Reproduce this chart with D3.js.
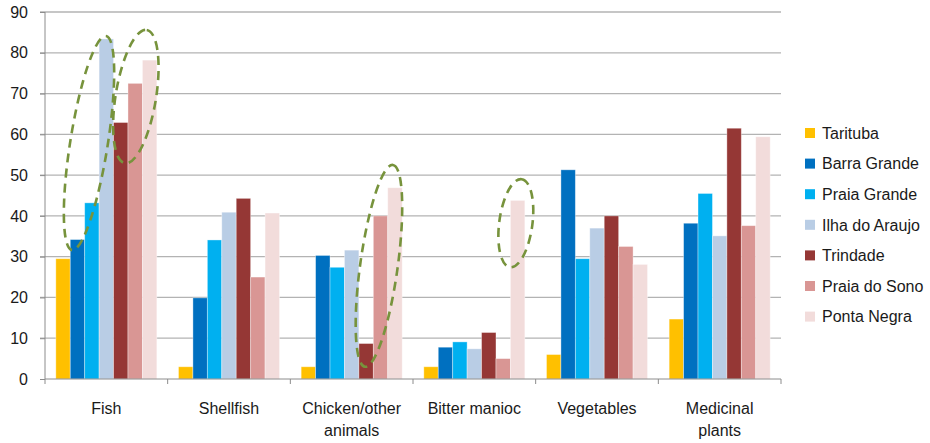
<!DOCTYPE html>
<html><head><meta charset="utf-8">
<script src="https://cdn.jsdelivr.net/npm/d3@7"></script>
<style>body{margin:0;background:#fff}svg{display:block;font-family:"Liberation Sans",Arial,sans-serif}</style>
</head><body><svg id="c" width="930" height="443"></svg>
<script>
const categories = ["Fish","Shellfish","Chicken/other animals","Bitter manioc","Vegetables","Medicinal plants"];
const categoryLines = [["Fish"],["Shellfish"],["Chicken/other","animals"],["Bitter manioc"],["Vegetables"],["Medicinal","plants"]];
const series = ["Tarituba","Barra Grande","Praia Grande","Ilha do Araujo","Trindade","Praia do Sono","Ponta Negra"];
const colors = ["#FFC000","#0070C0","#00B0F0","#B9CDE5","#953735","#D99694","#F2DCDB"];
const tarituba    = [29.5, 3, 3, 3, 6, 14.7];
const barraGrande = [34.2, 19.9, 30.3, 7.8, 51.3, 38.2];
const praiaGrande = [43.2, 34.1, 27.4, 9.1, 29.5, 45.5];
const ilhaAraujo  = [83.4, 40.9, 31.6, 7.4, 37.0, 35.1];
const trindade    = [62.9, 44.3, 8.7, 11.4, 40.0, 61.5];
const praiaSono   = [72.5, 25.0, 40.0, 5.0, 32.5, 37.6];
const pontaNegra  = [78.2, 40.7, 46.9, 43.8, 28.1, 59.4];
const yTicks = [0,10,20,30,40,50,60,70,80,90];
// dashed ellipse annotations: category, series positions (fractional index) and values of the two ends, half-width in series units
const annotations = [
  {cat:"Fish", p0:0.62, v0:31.6, p1:2.98, v1:84.1, w:1.3},
  {cat:"Fish", p0:4.29, v0:52.9, p1:5.8, v1:85.6, w:1.4},
  {cat:"Chicken/other animals", p0:3.92, v0:3.0, p1:5.86, v1:52.5, w:1.3},
  {cat:"Bitter manioc", p0:5.47, v0:27.4, p1:6.28, v1:49.0, w:1.15}
];
const values = [tarituba, barraGrande, praiaGrande, ilhaAraujo, trindade, praiaSono, pontaNegra];

const svg = d3.select("#c");
const m = {l:45, r:149, t:12, b:64};
const W = 930 - m.l - m.r, H = 443 - m.t - m.b;
const g = svg.append("g").attr("transform",`translate(${m.l},${m.t})`);

const x0 = d3.scaleBand().domain(categories).range([0,W]).paddingInner(0).paddingOuter(0);
const x1 = d3.scaleBand().domain(series).range([0,x0.bandwidth()]).paddingInner(0).paddingOuter(0.75);
const y = d3.scaleLinear().domain([0,90]).range([H,0]);

// gridlines
g.append("g").selectAll("line").data(yTicks.filter(t=>t>0)).join("line")
  .attr("x1",-5).attr("x2",W).attr("y1",d=>y(d)).attr("y2",d=>y(d))
  .attr("stroke","#B3B3B3").attr("stroke-width",1.3);

// bars
const groups = g.append("g").selectAll("g").data(categories).join("g")
  .attr("transform",d=>`translate(${x0(d)},0)`);
groups.selectAll("rect").data((c,ci)=>series.map((s,si)=>({s,si,v:values[si][ci]}))).join("rect")
  .attr("x",d=>x1(d.s)).attr("width",x1.bandwidth())
  .attr("y",d=>y(d.v)).attr("height",d=>y(0)-y(d.v))
  .attr("fill",d=>colors[d.si])
  .attr("stroke","rgba(255,255,255,0.45)").attr("stroke-width",0.8);

// y axis
const ya = g.append("g").call(d3.axisLeft(y).tickValues(yTicks).tickSize(5).tickPadding(12).tickFormat(d3.format("d")));
ya.select(".domain").attr("stroke","#8C8C8C").attr("d",`M0,${H}V0`);
ya.selectAll(".tick line").attr("stroke","#8C8C8C");
ya.selectAll("text").attr("font-size",16).attr("fill","#1a1a1a").attr("font-family","Liberation Sans, Arial, sans-serif");

// x axis
g.append("line").attr("x1",0).attr("x2",W).attr("y1",H).attr("y2",H).attr("stroke","#8C8C8C");
g.append("g").selectAll("line").data(d3.range(categories.length+1)).join("line")
  .attr("x1",i=>i*x0.step()).attr("x2",i=>i*x0.step()).attr("y1",H).attr("y2",H+5).attr("stroke","#8C8C8C");
const xl = g.append("g").selectAll("text").data(categories).join("text")
  .attr("x",d=>x0(d)+x0.bandwidth()/2).attr("y",H+35)
  .attr("text-anchor","middle").attr("font-size",16).attr("fill","#1a1a1a");
xl.each(function(d,i){
  d3.select(this).selectAll("tspan").data(categoryLines[i]).join("tspan")
    .attr("x",x0(d)+x0.bandwidth()/2).attr("dy",(t,j)=>j===0?0:22).text(t=>t);
});

// annotations
const step = x1.step();
annotations.forEach(a=>{
  const cx0 = x0(a.cat) + x1(series[0]) + x1.bandwidth()/2;
  const xa = cx0 + a.p0*step, ya0 = y(a.v0);
  const xb = cx0 + a.p1*step, yb = y(a.v1);
  const cx = (xa+xb)/2, cy = (ya0+yb)/2;
  const len = Math.hypot(xb-xa, yb-ya0)/2;
  const ang = Math.atan2(yb-ya0, xb-xa)*180/Math.PI;
  g.append("ellipse").attr("cx",0).attr("cy",0).attr("rx",len).attr("ry",a.w*step)
    .attr("transform",`translate(${cx},${cy}) rotate(${ang})`)
    .attr("fill","none").attr("stroke","#77933C").attr("stroke-width",2.6)
    .attr("stroke-dasharray","9,6");
});

// legend
const lg = svg.append("g").attr("transform","translate(805,133)");
const li = lg.selectAll("g").data(series).join("g").attr("transform",(d,i)=>`translate(0,${i*30.6})`);
li.append("rect").attr("x",0).attr("y",-5).attr("width",10).attr("height",10).attr("fill",(d,i)=>colors[i]);
li.append("text").attr("x",17).attr("y",0).attr("dy","0.36em").attr("font-size",16).attr("fill","#1a1a1a").text(d=>d);
</script></body></html>
